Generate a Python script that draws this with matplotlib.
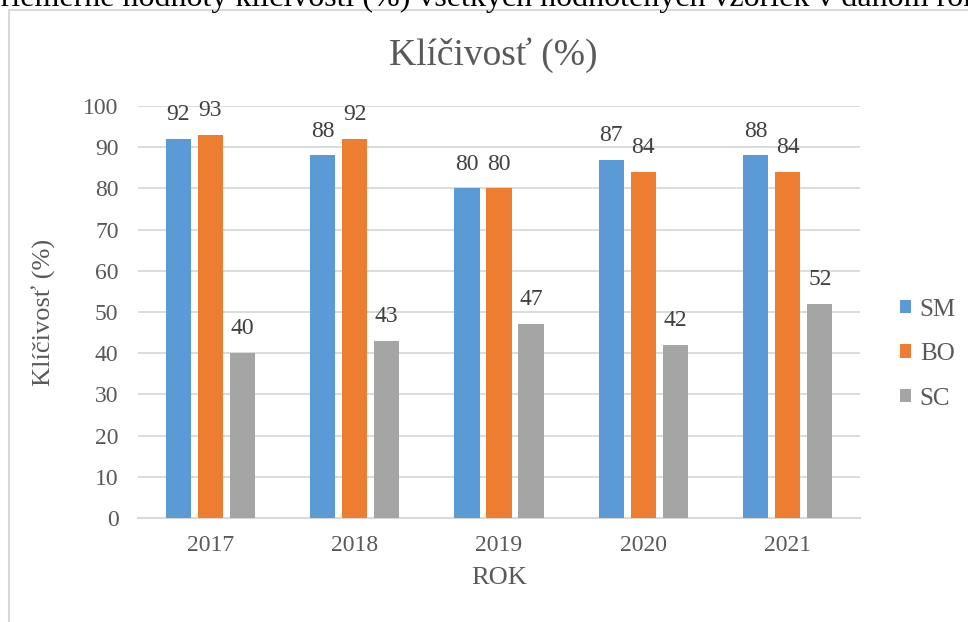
import matplotlib

matplotlib.use("Agg")
import matplotlib.pyplot as plt
import numpy as np
from matplotlib.patches import Rectangle

years = ["2017", "2018", "2019", "2020", "2021"]
series_names = ["SM", "BO", "SC"]
sm = [92, 88, 80, 87, 88]
bo = [93, 92, 80, 84, 84]
sc = [40, 43, 47, 42, 52]
colors = ["#5B9BD5", "#ED7D31", "#A5A5A5"]

plt.rcParams["font.family"] = ["Liberation Serif", "DejaVu Serif"]
txt = "#595959"
W, H = 968, 622

fig = plt.figure(figsize=(W / 100, H / 100), dpi=100)

# chart frame (light border, runs off right/bottom)
fig.patches.append(Rectangle((9 / W, -0.05), 1.2, 1 - 10 / H + 0.05, transform=fig.transFigure,
                             fill=False, edgecolor="#D9D9D9", linewidth=1.5))

# cut-off document caption above the chart
fig.text(-17 / W, 1 - 6 / H, "Priemerné hodnoty klíčivosti (%) všetkých hodnotených vzoriek v danom roku",
         fontsize=23, color="black", ha="left", va="baseline")

ax = fig.add_axes([138 / W, 1 - 518 / H, (860 - 138) / W, (518 - 106) / H])
x = np.arange(len(years))
w = 0.174
off = 0.222
for i, (vals, name) in enumerate(zip([sm, bo, sc], series_names)):
    bars = ax.bar(x + (i - 1) * off, vals, w, color=colors[i], label=name, zorder=3)
    ax.bar_label(bars, padding=10, fontsize=17, color="#404040")

ax.set_xlim(-0.5, len(years) - 0.5)
ax.set_ylim(0, 100)
ax.set_yticks(range(0, 101, 10))
ax.set_xticks(x)
ax.set_xticklabels(years)
ax.yaxis.grid(True, color="#D9D9D9", linewidth=1.3, zorder=0)
ax.tick_params(length=0, labelsize=17, labelcolor=txt)
ax.tick_params(axis="x", pad=12)
ax.tick_params(axis="y", pad=14)
for s in ["top", "right", "left"]:
    ax.spines[s].set_visible(False)
ax.spines["bottom"].set_color("#D9D9D9")
ax.spines["bottom"].set_linewidth(1.5)

ax.set_xlabel("ROK", fontsize=19, color=txt, labelpad=8)
ax.set_ylabel("Klíčivosť (%)", fontsize=19, color=txt, labelpad=20)
fig.text(493 / W, 1 - 55 / H, "Klíčivosť (%)", fontsize=27, color=txt, ha="center", va="center")

ax.legend(loc="center left", bbox_to_anchor=(1.024, 0.398), frameon=False, fontsize=18,
          labelcolor=txt, handlelength=0.45, handleheight=0.45, labelspacing=0.9, handletextpad=0.35)

fig.savefig("out.png", dpi=100)
